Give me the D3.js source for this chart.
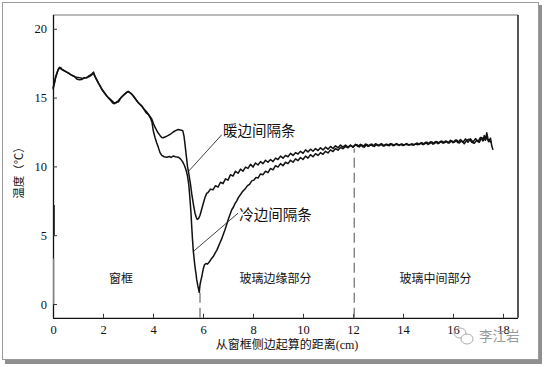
<!DOCTYPE html>
<html><head><meta charset="utf-8">
<script src="https://cdn.jsdelivr.net/npm/d3@7"></script>
<style>body{margin:0;background:#fff}svg{display:block}</style>
</head><body><div id="c"></div>
<script>
// ---- data ----
const xTicks = [0,2,4,6,8,10,12,14,16,18];
const yTicks = [0,5,10,15,20];
const xTitle = "从窗框侧边起算的距离(cm)";
const yTitle = "温度（℃）";
const regionLabels = [
  {text:"窗框", x:2.72, y:1.5},
  {text:"玻璃边缘部分", x:8.9, y:1.5},
  {text:"玻璃中间部分", x:15.3, y:1.5}
];
const boundaries = [{x:5.88, y0:-1, y1:1.0}, {x:12.05, y0:-1, y1:11.3}];
const warmLabel = {text:"暖边间隔条", x:6.8, y:12.6, px:5.4, py:9.6, lx:6.75, ly:12.3};
const coldLabel = {text:"冷边间隔条", x:7.45, y:6.5, px:5.6, py:3.8, lx:7.4, ly:6.6};
const warm = [[0.00,15.6],[0.04,15.9],[0.10,16.4],[0.15,16.7],[0.20,17.0],[0.25,17.15],[0.30,17.1],[0.35,17.05],[0.41,17.0],[0.50,16.9],[0.60,16.8],[0.68,16.7],[0.78,16.6],[0.88,16.5],[0.95,16.47],[1.05,16.45],[1.15,16.4],[1.21,16.38],[1.30,16.45],[1.40,16.5],[1.48,16.55],[1.55,16.65],[1.61,16.78],[1.66,16.6],[1.72,16.38],[1.80,16.1],[1.88,15.85],[1.95,15.6],[2.05,15.35],[2.15,15.12],[2.25,14.95],[2.35,14.78],[2.42,14.65],[2.52,14.6],[2.60,14.75],[2.68,14.92],[2.78,15.1],[2.88,15.27],[2.95,15.38],[3.01,15.45],[3.08,15.35],[3.15,15.25],[3.21,15.12],[3.30,14.9],[3.40,14.65],[3.48,14.5],[3.56,14.35],[3.65,14.15],[3.75,13.95],[3.85,13.7],[3.95,13.45],[4.02,13.1],[4.08,12.85],[4.18,12.5],[4.28,12.25],[4.35,12.1],[4.41,12.08],[4.50,12.15],[4.61,12.25],[4.70,12.35],[4.81,12.5],[4.90,12.6],[5.01,12.68],[5.10,12.65],[5.19,12.6],[5.24,12.2],[5.28,11.6],[5.33,10.8],[5.38,10.0],[5.43,9.5],[5.50,8.7],[5.55,8.0],[5.62,7.2],[5.68,6.6],[5.73,6.3],[5.77,6.15],[5.82,6.2],[5.88,6.45],[5.95,6.9],[6.01,7.3],[6.08,7.75],[6.15,8.05],[6.2,8.1],[6.3,8.35],[6.4,8.3],[6.5,8.6],[6.6,8.5],[6.7,8.85],[6.8,8.75],[6.9,9.1],[7.0,9.0],[7.1,9.4],[7.2,9.3],[7.3,9.65],[7.4,9.5],[7.5,9.8],[7.6,9.65],[7.7,9.95],[7.8,9.85],[7.9,10.15],[8.0,9.95],[8.1,10.25],[8.2,10.1],[8.3,10.35],[8.4,10.2],[8.5,10.45],[8.6,10.3],[8.7,10.5],[8.8,10.35],[8.9,10.6],[9.0,10.5],[9.1,10.75],[9.2,10.6],[9.3,10.8],[9.4,10.7],[9.5,10.95],[9.6,10.8],[9.7,11.0],[9.8,10.9],[9.9,11.1],[10.0,10.95],[10.1,11.2],[10.2,11.05],[10.3,11.25],[10.4,11.1],[10.5,11.3],[10.6,11.15],[10.7,11.35],[10.8,11.2],[10.9,11.4],[11.0,11.25],[11.1,11.45],[11.2,11.3],[11.3,11.5],[11.4,11.35],[11.5,11.55],[11.6,11.4],[11.7,11.55],[11.8,11.38],[11.9,11.55],[12.0,11.4],[12.1,11.6],[12.2,11.45],[12.3,11.6],[12.4,11.42],[12.5,11.62],[12.6,11.45],[12.7,11.6],[12.8,11.48],[12.9,11.65],[13.0,11.5],[13.1,11.62],[13.2,11.48],[13.3,11.6],[13.4,11.52],[13.5,11.65],[13.6,11.5],[13.7,11.62],[13.8,11.55],[13.9,11.6],[14.0,11.52],[14.1,11.62],[14.2,11.55],[14.3,11.6],[14.4,11.54],[14.5,11.62],[14.6,11.58],[14.7,11.7],[14.8,11.58],[14.9,11.75],[15.0,11.6],[15.1,11.78],[15.2,11.62],[15.3,11.8],[15.4,11.65],[15.5,11.82],[15.6,11.68],[15.7,11.85],[15.8,11.7],[15.9,11.9],[16.0,11.72],[16.1,11.92],[16.2,11.72],[16.3,11.95],[16.4,11.75],[16.5,12.0],[16.6,11.75],[16.7,12.0],[16.8,11.78],[16.9,12.02],[17.0,11.8],[17.1,12.1],[17.2,11.85],[17.25,12.25],[17.3,11.9],[17.35,12.45],[17.42,11.8],[17.5,12.05],[17.55,11.5],[17.6,11.2]];
const cold = [[0.00,15.7],[0.05,16.0],[0.10,16.5],[0.16,16.8],[0.22,17.1],[0.27,17.2],[0.32,17.15],[0.38,17.0],[0.45,16.95],[0.55,16.85],[0.65,16.75],[0.75,16.62],[0.85,16.55],[0.95,16.35],[1.05,16.3],[1.15,16.32],[1.25,16.45],[1.35,16.42],[1.45,16.6],[1.55,16.7],[1.62,16.85],[1.68,16.55],[1.75,16.3],[1.82,16.05],[1.90,15.8],[1.98,15.55],[2.08,15.3],[2.18,15.05],[2.28,14.85],[2.38,14.62],[2.45,14.55],[2.55,14.7],[2.62,14.68],[2.70,14.95],[2.80,15.15],[2.90,15.3],[2.98,15.42],[3.04,15.4],[3.12,15.3],[3.20,15.15],[3.28,14.95],[3.38,14.7],[3.46,14.55],[3.55,14.4],[3.62,14.2],[3.72,13.9],[3.82,13.75],[3.90,13.5],[3.96,13.2],[4.01,12.6],[4.08,12.1],[4.15,11.7],[4.21,11.4],[4.28,11.0],[4.35,10.8],[4.45,10.7],[4.55,10.67],[4.65,10.72],[4.72,10.65],[4.81,10.75],[4.90,10.7],[5.01,10.67],[5.10,10.55],[5.18,10.35],[5.25,10.1],[5.32,9.75],[5.38,9.3],[5.43,8.7],[5.48,7.6],[5.52,6.6],[5.55,5.6],[5.58,4.7],[5.61,3.9],[5.65,3.2],[5.68,2.7],[5.72,2.2],[5.75,1.75],[5.79,1.35],[5.82,1.1],[5.85,0.85],[5.88,1.4],[5.92,1.75],[5.95,1.98],[6.01,2.55],[6.06,2.85],[6.12,2.95],[6.18,2.9],[6.25,3.05],[6.32,3.25],[6.41,3.45],[6.50,3.75],[6.55,3.9],[6.61,4.15],[6.68,4.45],[6.75,4.75],[6.82,5.1],[6.88,5.4],[6.95,5.8],[7.02,6.2],[7.08,6.5],[7.15,6.85],[7.22,7.05],[7.28,7.3],[7.35,7.5],[7.42,7.75],[7.48,7.9],[7.55,8.1],[7.62,8.25],[7.7,8.4],[7.78,8.6],[7.86,8.7],[7.95,8.95],[8.03,9.0],[8.12,9.2],[8.2,9.15],[8.3,9.45],[8.4,9.4],[8.5,9.65],[8.6,9.55],[8.7,9.85],[8.8,9.75],[8.9,10.05],[9.0,9.95],[9.1,10.2],[9.2,10.05],[9.3,10.3],[9.4,10.2],[9.5,10.45],[9.6,10.3],[9.7,10.55],[9.8,10.42],[9.9,10.65],[10.0,10.5],[10.1,10.75],[10.2,10.6],[10.3,10.85],[10.4,10.7],[10.5,10.92],[10.6,10.8],[10.7,11.0],[10.8,10.88],[10.9,11.1],[11.0,10.98],[11.1,11.2],[11.2,11.08],[11.3,11.3],[11.4,11.18],[11.5,11.38],[11.6,11.28],[11.7,11.45],[11.8,11.35],[11.9,11.52],[12.0,11.4],[12.05,11.5],[12.15,11.58],[12.25,11.42],[12.35,11.56],[12.45,11.4],[12.55,11.6],[12.65,11.48],[12.75,11.62],[12.85,11.45],[12.95,11.6],[13.05,11.5],[13.15,11.65],[13.25,11.48],[13.35,11.62],[13.45,11.5],[13.55,11.64],[13.65,11.52],[13.75,11.66],[13.85,11.52],[13.95,11.64],[14.05,11.55],[14.15,11.66],[14.25,11.54],[14.35,11.64],[14.45,11.58],[14.55,11.7],[14.65,11.6],[14.75,11.72],[14.85,11.62],[14.95,11.76],[15.05,11.64],[15.15,11.78],[15.25,11.66],[15.35,11.8],[15.45,11.7],[15.55,11.84],[15.65,11.72],[15.75,11.82],[15.85,11.7],[15.95,11.86],[16.05,11.75],[16.15,11.92],[16.25,11.7],[16.35,11.85],[16.45,11.65],[16.55,11.9],[16.65,11.98],[16.75,11.75],[16.85,11.68],[16.95,11.9],[17.05,11.75],[17.15,12.1],[17.22,11.9],[17.3,12.15],[17.38,11.95],[17.45,11.85],[17.52,11.75]];
const edgeMarks = [{x:0.03, y0:0, y1:3.3, c:"#999"}, {x:0.05, y0:5.0, y1:7.2, c:"#222"}];

// ---- chart ----
const W = 544, H = 367;
const svg = d3.select("#c").append("svg").attr("width", W).attr("height", H);
// picture frame with shadow
svg.append("rect").attr("x",5).attr("y",5).attr("width",537).attr("height",359).attr("fill","#8f8f8f");
svg.append("rect").attr("x",2.5).attr("y",2.5).attr("width",536).attr("height",357).attr("fill","#fff").attr("stroke","#9a9a9a");

const x = d3.scaleLinear().domain([0, 18.6]).range([53, 518]);
const y = d3.scaleLinear().domain([-1, 21]).range([317.8, 15]);
const serif = "'Liberation Serif','Times New Roman',serif";
const cjk = "'Liberation Serif','Noto Sans CJK SC',serif";

// frame top and right
svg.append("line").attr("x1",x(0)).attr("x2",x(18.6)).attr("y1",y(21)).attr("y2",y(21)).attr("stroke","#777").attr("stroke-width",1.2);
svg.append("line").attr("x1",x(18.6)).attr("x2",x(18.6)).attr("y1",y(21)).attr("y2",y(-1)).attr("stroke","#111").attr("stroke-width",1.4);

const xAxis = svg.append("g").attr("transform",`translate(0,${y(-1)})`)
  .call(d3.axisBottom(x).tickValues(xTicks).tickSize(-4).tickPadding(7).tickFormat(d3.format("d")));
const yAxis = svg.append("g").attr("transform",`translate(${x(0)},0)`)
  .call(d3.axisLeft(y).tickValues(yTicks).tickSize(-4).tickPadding(6).tickFormat(d3.format("d")));
[xAxis, yAxis].forEach(g => {
  g.select(".domain").attr("stroke","#111").attr("stroke-width",1.3);
  g.selectAll(".tick line").attr("stroke","#333");
  g.selectAll("text").attr("font-family",serif).attr("font-size",12.5).attr("fill","#111");
});
yAxis.select(".domain").attr("d",`M0.5,${y(21)}V${y(-1)}`);
xAxis.select(".domain").attr("d",`M${x(0)},0.5H${x(18.6)}`);

// axis titles
svg.append("text").attr("x",287).attr("y",349).attr("text-anchor","middle")
  .attr("font-family",cjk).attr("font-size",12).attr("fill","#111").text(xTitle);
svg.append("text").attr("transform","translate(23,170) rotate(-90)").attr("text-anchor","middle")
  .attr("font-family",cjk).attr("font-size",11.5).attr("fill","#111").text(yTitle);

// boundaries
svg.selectAll(".bnd").data(boundaries).join("line")
  .attr("x1",d=>x(d.x)).attr("x2",d=>x(d.x)).attr("y1",d=>y(d.y0)).attr("y2",d=>y(d.y1))
  .attr("stroke","#777").attr("stroke-width",1.3).attr("stroke-dasharray","10,5");
svg.selectAll(".edge").data(edgeMarks).join("line")
  .attr("x1",d=>x(d.x)).attr("x2",d=>x(d.x)).attr("y1",d=>y(d.y0)).attr("y2",d=>y(d.y1))
  .attr("stroke",d=>d.c).attr("stroke-width",1.2);

// region labels
svg.selectAll(".reg").data(regionLabels).join("text")
  .attr("x",d=>x(d.x)).attr("y",d=>y(d.y)).attr("text-anchor","middle")
  .attr("font-family",cjk).attr("font-size",12).attr("fill","#111").text(d=>d.text);

// curves
const line = d3.line().x(d=>x(d[0])).y(d=>y(d[1]));
[warm, cold].forEach(s => {
  svg.append("path").attr("d",line(s)).attr("fill","none").attr("stroke","#111")
    .attr("stroke-width",1.5).attr("stroke-linejoin","round");
});

// annotations
[warmLabel, coldLabel].forEach(a => {
  svg.append("line").attr("x1",x(a.px)).attr("y1",y(a.py)).attr("x2",x(a.lx)).attr("y2",y(a.ly))
    .attr("stroke","#111").attr("stroke-width",0.8);
  svg.append("text").attr("x",x(a.x)).attr("y",y(a.y)).attr("dy","0.35em")
    .attr("font-family","'Noto Sans CJK SC',sans-serif").attr("font-size",14.5).attr("fill","#111").text(a.text);
});

// watermark
const wm = svg.append("g").attr("fill","none").attr("stroke","#aaa").attr("stroke-width",1);
wm.append("ellipse").attr("cx",460).attr("cy",333).attr("rx",6).attr("ry",5);
wm.append("ellipse").attr("cx",467).attr("cy",339).attr("rx",6).attr("ry",5).attr("fill","#fff");
svg.append("text").attr("x",479).attr("y",341).attr("font-family","'Noto Sans CJK SC',sans-serif")
  .attr("font-size",13.5).attr("fill","#9a9a9a").text("李江岩");
</script></body></html>
